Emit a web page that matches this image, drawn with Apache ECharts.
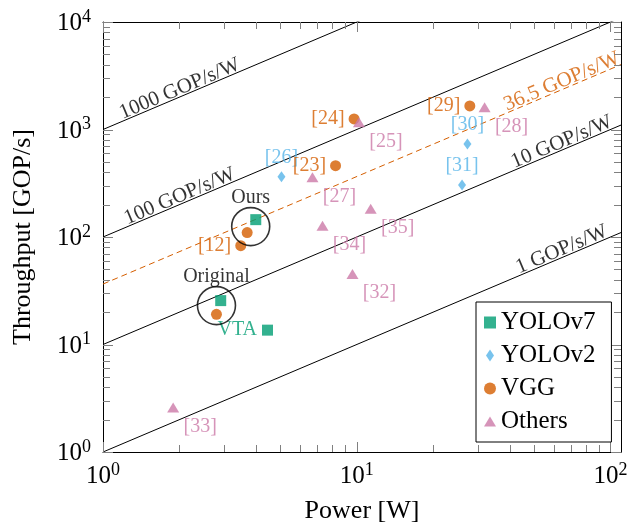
<!DOCTYPE html>
<html><head><meta charset="utf-8">
<script src="https://cdn.jsdelivr.net/npm/echarts@6/dist/echarts.min.js"></script>
<style>html,body{margin:0;padding:0;background:#fff}#c{width:629px;height:523px}</style>
</head><body><div id="c"></div>
<script>
const FONT = '"Liberation Serif","Times New Roman",serif';

// ---- data ----
const yolov7Power = [4.0, 2.91, 4.45];
const yolov7Thr   = [145, 25.6, 13.6];
const yolov7Names = ['', '', 'VTA'];

const yolov2Power = [5.05, 27.3, 26.0];
const yolov2Thr   = [364, 733, 305];
const yolov2Names = ['[26]', '[30]', '[31]'];

const vggPower = [3.70, 3.49, 2.80, 9.76, 8.25, 27.9];
const vggThr   = [110, 83, 19.1, 1253, 461, 1655];
const vggNames = ['', '[12]', '', '[24]', '[23]', '[29]'];

const othersPower = [10.2, 31.9, 6.69, 11.35, 7.33, 9.62, 1.89];
const othersThr   = [1167, 1608, 359, 183, 127, 45.3, 2.6];
const othersNames = ['[25]', '[28]', '[27]', '[35]', '[34]', '[32]', '[33]'];

const efficiencyRates = [1000, 100, 10, 1];
const efficiencyNames = ['1000 GOP/s/W', '100 GOP/s/W', '10 GOP/s/W', '1 GOP/s/W'];
const efficiencyLabelPower = [2.06, 2.06, 66, 66];

const oursRate = 36.5;
const oursRateName = '36.5 GOP/s/W';
const oursRateLabelPower = 66;

const annotNames = ['Ours', 'Original'];
const annotPower = [3.82, 2.80];
const annotThr   = [125, 23];

const xRange = [1, 110];
const yRange = [1, 10000];
const xMajorTicks = [1, 10, 100];
const xMinorTicks = [2, 3, 4, 5, 6, 7, 8, 9, 20, 30, 40, 50, 60, 70, 80, 90];
const yMajorTicks = [1, 10, 100, 1000, 10000];
const yMinorTicks = [2, 3, 4, 5, 6, 7, 8, 9, 20, 30, 40, 50, 60, 70, 80, 90,
  200, 300, 400, 500, 600, 700, 800, 900, 2000, 3000, 4000, 5000, 6000, 7000, 8000, 9000];

// ---- styles ----
const C_GREEN = '#009E73', C_BLUE = '#56B4E9', C_ORANGE = '#D55E00', C_PINK = '#CC79A7';
const TICK_COLOR = '#808080';
const MAJOR_LEN = 10, MINOR_LEN = 7;

const isPow10 = v => Math.abs(Math.log10(v) - Math.round(Math.log10(v))) < 1e-6;
const powLabel = v => isPow10(v) ? '{b|10}{s|' + Math.round(Math.log10(v)) + '}' : '';
const labelRich = {
  b: { fontSize: 25, fontFamily: FONT, color: '#000', lineHeight: 28, verticalAlign: 'bottom' },
  s: { fontSize: 18, fontFamily: FONT, color: '#000', lineHeight: 18, verticalAlign: 'top' }
};

function makeAxis(pos, range, opts) {
  opts = opts || {};
  const ax = {
    type: 'log', logBase: 10, min: range[0], max: range[1], position: pos,
    axisLine: { show: true, onZero: false, lineStyle: { color: '#000', width: 1 } },
    axisTick: { show: false },
    axisLabel: { show: false },
    splitLine: { show: false },
    minorTick: { show: false },
    silent: true
  };
  if (opts.labels) {
    ax.axisLabel = { show: true, formatter: powLabel, rich: labelRich,
      margin: opts.margin, showMinLabel: true, showMaxLabel: true, hideOverlap: false };
  }
  if (opts.name) {
    ax.name = opts.name;
    ax.nameLocation = 'middle';
    ax.nameGap = opts.nameGap;
    ax.nameTextStyle = { fontSize: 26, fontFamily: FONT, color: '#000' };
  }
  return ax;
}

const xAxes = [
  makeAxis('bottom', xRange, { labels: true, margin: 9, name: 'Power [W]', nameGap: 46 }),
  makeAxis('top', xRange)
];
const yAxes = [
  makeAxis('left', yRange, { labels: true, margin: 12, name: 'Throughput [GOP/s]', nameGap: 67 }),
  makeAxis('right', yRange)
];

const series = [];
efficiencyRates.forEach((r, i) => {
  series.push({
    type: 'line', name: efficiencyNames[i], silent: true, showSymbol: false, clip: true,
    data: [[xRange[0], xRange[0] * r], [xRange[1], xRange[1] * r]],
    lineStyle: { color: '#000', width: 1 }, z: 1
  });
});
series.push({
  type: 'line', name: oursRateName, silent: true, showSymbol: false, clip: true,
  data: [[xRange[0], xRange[0] * oursRate], [xRange[1], xRange[1] * oursRate]],
  lineStyle: { color: C_ORANGE, width: 1, type: [6, 4] }, z: 1
});
const effLabelData = efficiencyRates.map((r, i) => ({
  value: [efficiencyLabelPower[i], efficiencyLabelPower[i] * r], name: efficiencyNames[i],
  label: { color: '#000' }
}));
effLabelData.push({ value: [oursRateLabelPower, oursRateLabelPower * oursRate], name: oursRateName,
  label: { color: C_ORANGE } });
series.push({
  type: 'scatter', name: 'effLabels', silent: true, symbolSize: 1,
  itemStyle: { color: 'rgba(0,0,0,0)' },
  data: effLabelData,
  label: { show: true, formatter: p => p.name, position: 'inside', align: 'center', verticalAlign: 'bottom',
    rotate: 22.94, offset: [0, 3], fontSize: 21, fontFamily: FONT },
  z: 3
});
function pts(px, py, names) { return px.map((p, i) => ({ value: [p, py[i]], name: names[i] })); }
const lbl = (color, extra) => Object.assign({ show: true, formatter: p => p.name, color: color,
  fontSize: 20, fontFamily: FONT }, extra);
const DIAMOND = 'path://M4,0L8,6L4,12L0,6Z';
const TRIANGLE = 'path://M0,9L5.5,0L11,9Z';
series.push({
  type: 'scatter', name: 'YOLOv7', symbol: 'rect', symbolSize: 11,
  itemStyle: { color: C_GREEN }, data: pts(yolov7Power, yolov7Thr, yolov7Names),
  label: lbl(C_GREEN, { position: 'left', distance: 5 }), z: 5
});
series.push({
  type: 'scatter', name: 'YOLOv2', symbol: 'diamond', symbolSize: [8, 11],
  itemStyle: { color: C_BLUE }, data: pts(yolov2Power, yolov2Thr, yolov2Names),
  label: lbl(C_BLUE, { position: 'inside', offset: [0, -19] }), z: 5
});
series.push({
  type: 'scatter', name: 'VGG', symbol: 'circle', symbolSize: 11,
  itemStyle: { color: C_ORANGE }, data: pts(vggPower, vggThr, vggNames),
  label: lbl(C_ORANGE, { position: 'left', distance: 4 }), z: 5
});
series.push({
  type: 'scatter', name: 'Others', symbol: 'triangle', symbolSize: [12, 10],
  itemStyle: { color: C_PINK }, data: pts(othersPower, othersThr, othersNames),
  label: lbl(C_PINK, { position: 'inside', offset: [27, 19] }), z: 5
});
series.push({
  type: 'scatter', name: 'annot', symbol: 'circle', symbolSize: 38, silent: true,
  itemStyle: { color: 'rgba(0,0,0,0)', borderColor: '#000', borderWidth: 1.6 },
  data: pts(annotPower, annotThr, annotNames),
  label: lbl('#000', { position: 'top', distance: -1 }), z: 6
});

const chart = echarts.init(document.getElementById('c'), null, { renderer: 'canvas' });
chart.setOption({
  animation: false,
  backgroundColor: '#fff',
  grid: { left: 103, top: 22, width: 518, height: 430, containLabel: false, outerBoundsMode: 'none' },
  xAxis: xAxes,
  yAxis: yAxes,
  legend: {
    orient: 'vertical', left: 476, top: 302,
    data: [{ name: 'YOLOv7', icon: 'rect' }, { name: 'YOLOv2', icon: DIAMOND },
           { name: 'VGG', icon: 'circle' }, { name: 'Others', icon: TRIANGLE }],
    itemWidth: 12, itemHeight: 12, itemGap: 8,
    padding: [8, 16, 8, 8],
    backgroundColor: '#fff', borderColor: '#000', borderWidth: 1, borderRadius: 0,
    textStyle: { fontSize: 25, fontFamily: FONT, color: '#000' },
    selectedMode: false, z: 30
  },
  series: series
});

// inside tick marks on all four sides, placed through the axes' scales
const tickEls = [];
function addTick(val, side, len) {
  const pt = side < 2 ? [val, side === 0 ? yRange[0] : yRange[1]]
                      : [side === 2 ? xRange[0] : xRange[1], val];
  const p = chart.convertToPixel({ gridIndex: 0 }, pt);
  const d = [[0, -1], [0, 1], [1, 0], [-1, 0]][side];
  const x = side < 2 ? Math.round(p[0]) + 0.5 : p[0];
  const y = side < 2 ? p[1] : Math.round(p[1]) + 0.5;
  tickEls.push({ type: 'line', silent: true, z: 20,
    shape: { x1: x, y1: y, x2: x + d[0] * len, y2: y + d[1] * len },
    style: { stroke: TICK_COLOR, lineWidth: 1 } });
}
xMajorTicks.forEach(v => { addTick(v, 0, MAJOR_LEN); addTick(v, 1, MAJOR_LEN); });
xMinorTicks.forEach(v => { addTick(v, 0, MINOR_LEN); addTick(v, 1, MINOR_LEN); });
yMajorTicks.forEach(v => { addTick(v, 2, MAJOR_LEN); addTick(v, 3, MAJOR_LEN); });
yMinorTicks.forEach(v => { addTick(v, 2, MINOR_LEN); addTick(v, 3, MINOR_LEN); });
chart.setOption({ graphic: tickEls });
</script>
</body></html>
